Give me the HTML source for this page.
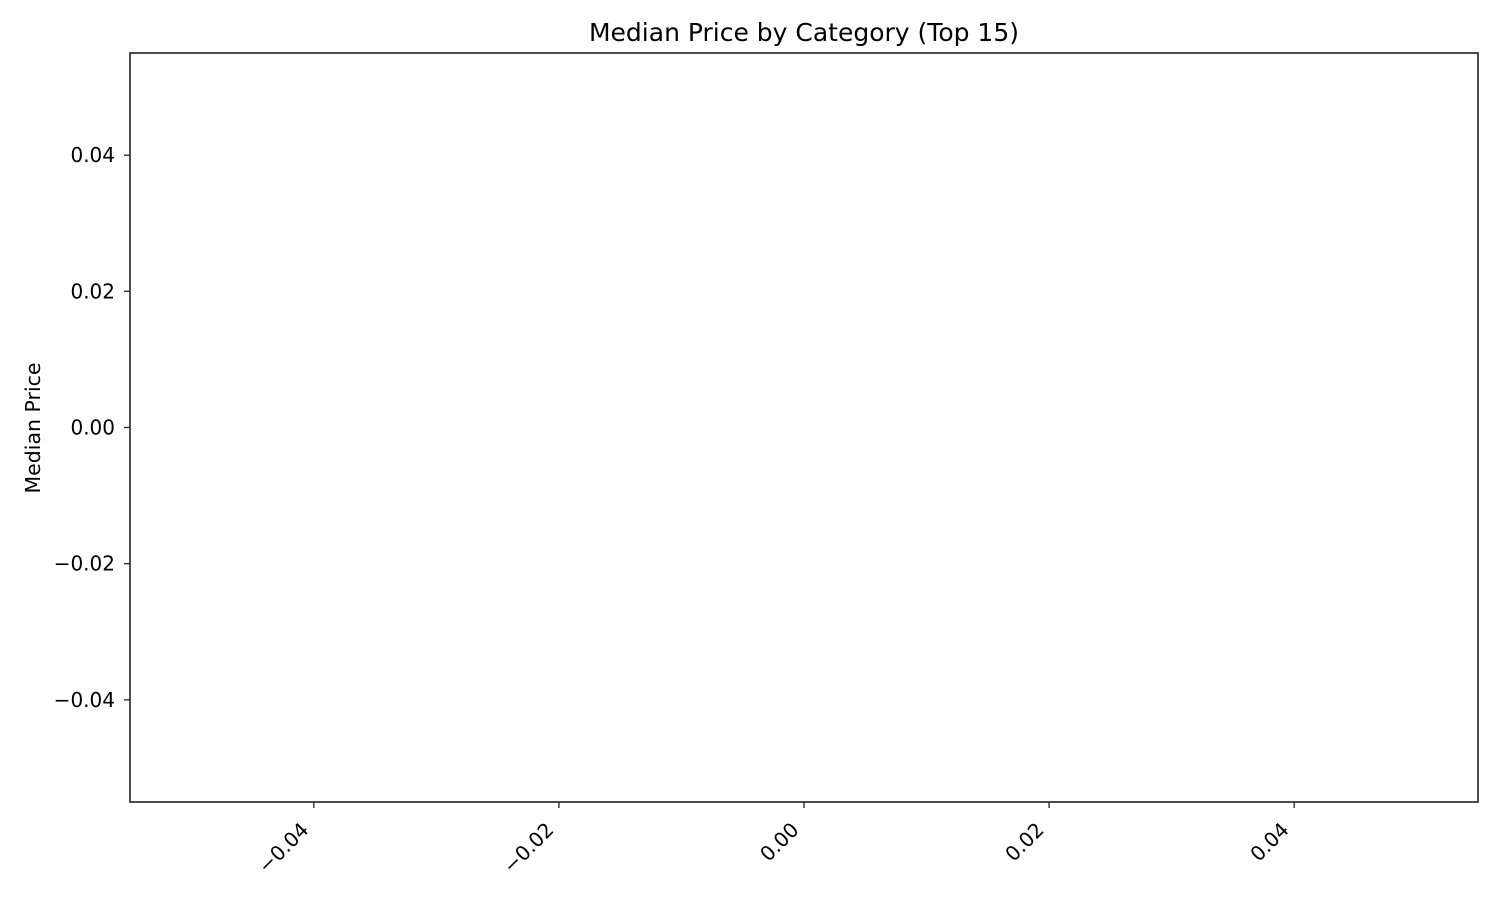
<!DOCTYPE html>
<html><head><meta charset="utf-8">
<style>
html,body{margin:0;padding:0;background:#fff;}
body{width:1500px;height:900px;overflow:hidden;}
svg text{font-family:"DejaVu Sans","Liberation Sans",sans-serif;fill:#000;}
</style></head>
<body>
<svg id="chart" width="1500" height="900" viewBox="0 0 1500 900" xmlns="http://www.w3.org/2000/svg">
<rect x="0" y="0" width="1500" height="900" fill="#fff"/>
<text x="804" y="41" font-size="25" text-anchor="middle">Median Price by Category (Top 15)</text>
<text x="0" y="0" font-size="20.5" text-anchor="middle" transform="translate(40,428) rotate(-90)">Median Price</text>
<g id="bars"></g>
<g id="xticks"></g>
<g id="yticks"></g>
<rect x="130" y="53" width="1348" height="749" fill="none" stroke="#222" stroke-width="1.6"/>
</svg>
<script>
const categories = [];
const medianPrices = [];
const xTickValues = [-0.04, -0.02, 0.00, 0.02, 0.04];
const xTickLabels = ["\u22120.04", "\u22120.02", "0.00", "0.02", "0.04"];
const yTickValues = [0.04, 0.02, 0.00, -0.02, -0.04];
const yTickLabels = ["0.04", "0.02", "0.00", "\u22120.02", "\u22120.04"];

const NS = "http://www.w3.org/2000/svg";
const L = 130, R = 1478, T = 53, B = 802;
const xMin = -0.055, xMax = 0.055, yMin = -0.055, yMax = 0.055;
function xs(v){ return L + (v - xMin) / (xMax - xMin) * (R - L); }
function ys(v){ return B - (v - yMin) / (yMax - yMin) * (B - T); }
function mk(tag, attrs){ const e = document.createElementNS(NS, tag); for (const k in attrs) e.setAttribute(k, attrs[k]); return e; }

const xg = document.getElementById('xticks');
xTickValues.forEach((v, i) => {
  const x = xs(v);
  const t = mk('line', {x1:x, x2:x, y1:B, y2:B+6, stroke:'#222', 'stroke-width':1.3});
  
  
  xg.appendChild(t);
  const lb = mk('text', {x:0, y:0, 'font-size':20, 'text-anchor':'end', transform:`translate(${x-4},${B+29}) rotate(-45)`});
  
  
  lb.textContent = xTickLabels[i];
  xg.appendChild(lb);
});

const yg = document.getElementById('yticks');
yTickValues.forEach((v, i) => {
  const y = ys(v);
  const t = mk('line', {x1:L-6, x2:L, y1:y, y2:y, stroke:'#222', 'stroke-width':1.3});
  
  
  yg.appendChild(t);
  const lb = mk('text', {x:L-15, y:y+7, 'font-size':20, 'text-anchor':'end'});
  
  
  lb.textContent = yTickLabels[i];
  yg.appendChild(lb);
});

const bg = document.getElementById('bars');
categories.forEach((c, i) => {
  const v = medianPrices[i];
  const x = xs(i - 0.4), w = xs(i + 0.4) - x;
  const y0 = ys(Math.max(0, v)), y1 = ys(Math.min(0, v));
  const r = mk('rect', {x:x, y:y0, width:w, height:y1 - y0, fill:'#1f77b4'});
  
  
  bg.appendChild(r);
});
</script>
</body></html>
